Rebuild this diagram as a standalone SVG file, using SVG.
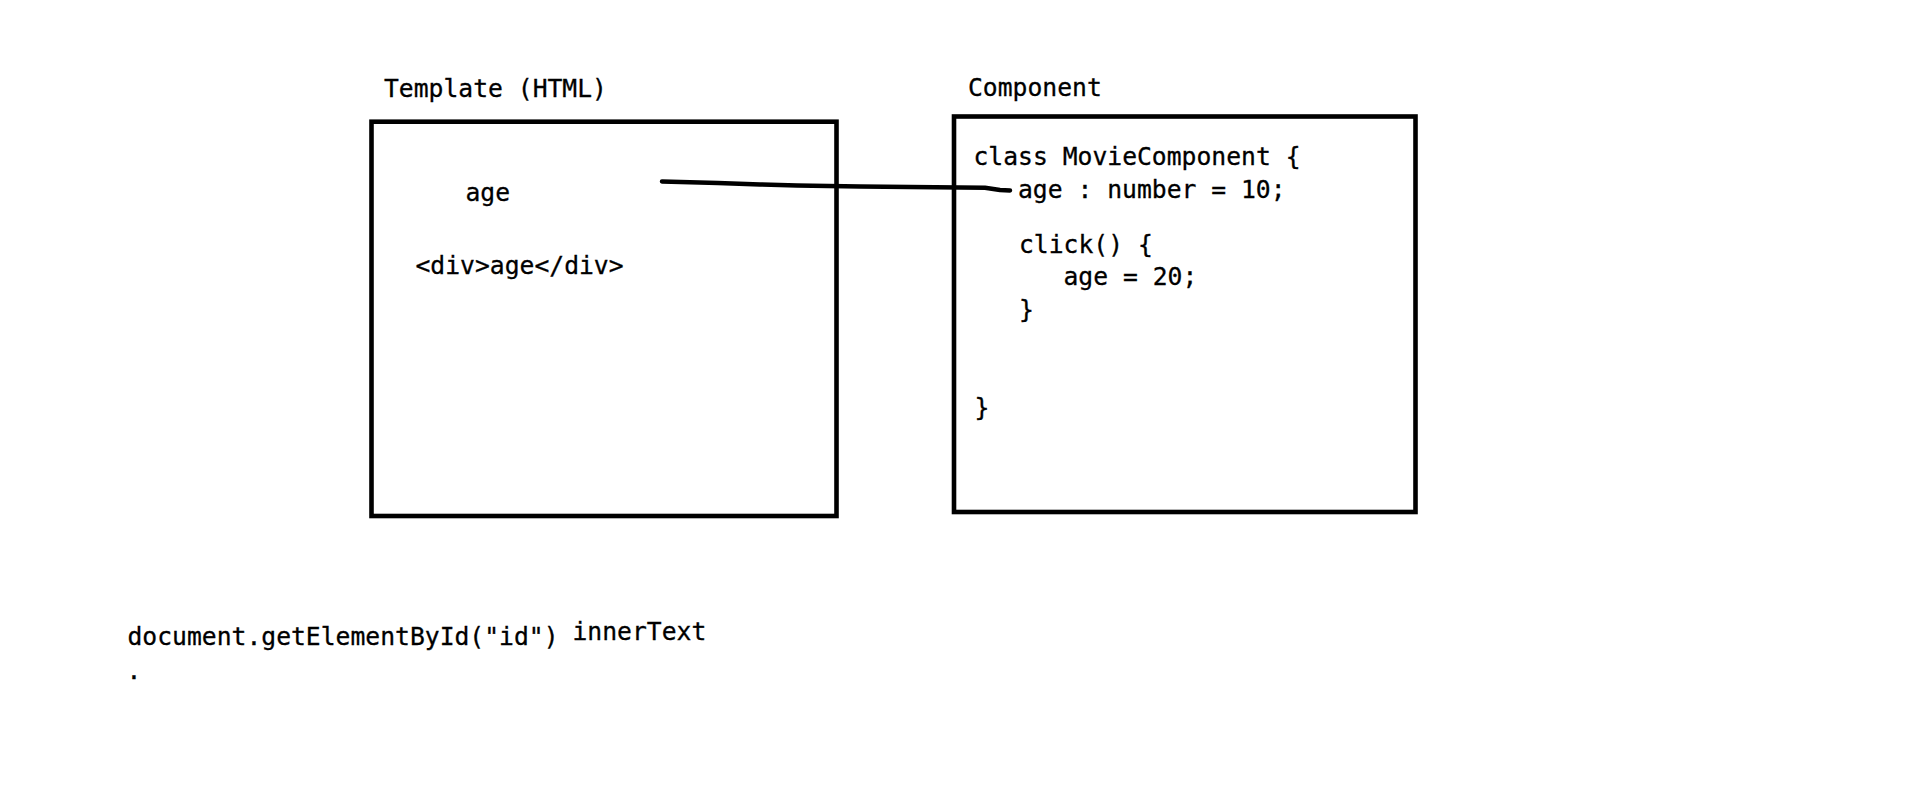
<svg xmlns="http://www.w3.org/2000/svg" width="1914" height="796" viewBox="0 0 1914 796">
<style>
.box{fill:none;stroke:#000;stroke-width:4.6}
.t{font-family:"DejaVu Sans Mono","Liberation Mono",monospace;font-size:24.7px;fill:#000;stroke:#000;stroke-width:0.3}
.conn{fill:none;stroke:#000;stroke-width:4.5;stroke-linecap:round;stroke-linejoin:round}
</style>
<rect width="1914" height="796" fill="#fff"/>
<g id="template">
<text class="t" x="384" y="97">Template (HTML)</text>
<rect class="box" x="371.5" y="121.7" width="465" height="394.3"/>
<text class="t" x="465.5" y="201">age</text>
<text class="t" x="415.5" y="274">&lt;div&gt;age&lt;/div&gt;</text>
</g>
<g id="component">
<text class="t" x="968" y="96">Component</text>
<rect class="box" x="954" y="116.5" width="461.5" height="395.5"/>
<text class="t" x="973.5" y="165">class MovieComponent {</text>
<text class="t" x="1018" y="198">age : number = 10;</text>
<text class="t" x="1019" y="253">click() {</text>
<text class="t" x="1063.5" y="285">age = 20;</text>
<text class="t" x="1019" y="318">}</text>
<text class="t" x="974.5" y="416">}</text>
</g>
<g id="dom">
<text class="t" x="127.5" y="645">document.getElementById("id")</text>
<text class="t" x="572.5" y="640">innerText</text>
<text class="t" x="126.5" y="679">.</text>
</g>
<g id="connectors">
<path class="conn" d="M662,181.5 L718,183 L760,184.5 L797,185.5 L860,186.5 L985,187.8 L1000,190 L1010,190.5"/>
</g>
</svg>
